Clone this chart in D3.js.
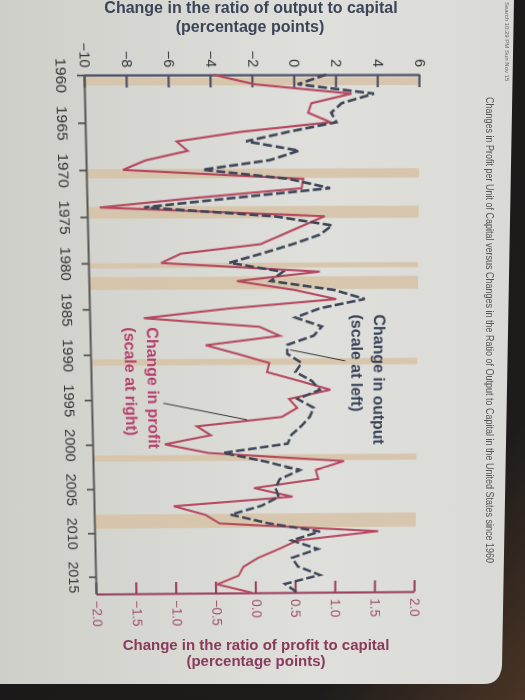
<!DOCTYPE html>
<html><head><meta charset="utf-8">
<script src="https://cdn.jsdelivr.net/npm/d3@7"></script>
<style>
html,body{margin:0;padding:0;overflow:hidden;width:525px;height:700px;background:#1c1c1c;}
#bg,#fg{position:absolute;left:0;top:0;}
#fg{pointer-events:none;}
#chartwrap{position:absolute;left:0;top:0;width:760px;height:560px;transform-origin:0 0;}
text{font-family:"Liberation Sans",Arial,Helvetica,sans-serif;}
</style></head><body>
<svg id="bg" width="525" height="700"></svg>
<div id="chartwrap"><svg id="chart" width="760" height="560" style="overflow:visible"></svg></div>
<svg id="fg" width="525" height="700"></svg>
<script>
// ---------------- data ----------------
const years = d3.range(1960, 2018);
const outputChange = [
  1.5, 0.15, 3.8, 2.25, 1.75, 2.0, -0.3, -2.35, 0.2, -1.2,
  -4.45, -0.3, 1.7, -2.9, -7.3, -1.0, 1.8, 1.2, -0.1, -1.6,
  -3.2, -0.6, -1.2, 1.9, 3.4, 1.2, 0.0, 1.3, 0.9, -0.4,
  -0.4, 0.3, 0.0, 0.8, 1.2, 0.1, 0.9, 0.7, 0.3, -0.2,
  -0.4, -3.6, -1.5, 0.2, -0.8, -1.0, -0.85, -1.7, -3.25, -1.4,
  1.2, -0.2, 1.1, -0.2, 0.1, 1.2, -0.55, 0.05
];
const profitChange = [
  -0.47, 0.02, 1.18, 0.70, 0.66, 0.93, -0.15, -0.92, -0.79, -1.30,
  -1.57, 0.60, 0.58, -0.70, -1.86, 0.86, 0.60, 0.34, 0.08, -0.89,
  -1.13, 0.80, -0.21, 0.50, 1.00, -0.33, -1.35, 0.06, 0.31, -0.60,
  -0.20, 0.18, 0.15, 0.55, 0.93, 0.42, 0.52, 0.33, -0.72, -0.55,
  -1.12, -0.58, 1.10, 0.75, 0.78, -0.02, 0.46, -1.02, -0.63, -0.45,
  1.53, 0.52, 0.28, 0.02, -0.16, -0.22, -0.49, -0.05
];
const recessions = [[1960.3,1961.1],[1969.9,1970.9],[1973.9,1975.2],[1980.0,1980.55],
  [1981.5,1982.9],[1990.5,1991.2],[2001.2,2001.9],[2007.9,2009.5]];
const outputTicks = [-10,-8,-6,-4,-2,0,2,4,6];
const profitTicks = [-2,-1.5,-1,-0.5,0,0.5,1,1.5,2];
const yearTicks = [1960,1965,1970,1975,1980,1985,1990,1995,2000,2005,2010,2015];
const chartTitle = "Changes in Profit per Unit of Capital versus Changes in the Ratio of Output to Capital in the United States since 1960";
const leftTitle = ["Change in the ratio of output to capital","(percentage points)"];
const rightTitle = ["Change in the ratio of profit to capital","(percentage points)"];

// ---------------- background (phone screen) ----------------
const bg = d3.select("#bg");
const defs = bg.append("defs");
const gr = defs.append("linearGradient").attr("id","scr").attr("x1",0).attr("x2",1).attr("y1",0).attr("y2",0);
gr.append("stop").attr("offset","0").attr("stop-color","#cfcfca");
gr.append("stop").attr("offset","0.6").attr("stop-color","#dfdfdb");
gr.append("stop").attr("offset","1").attr("stop-color","#d9d9d5");
bg.append("rect").attr("width",525).attr("height",700).attr("fill","url(#scr)");

// ---------------- natural chart (then rotated / warped) ----------------
const ml = 120, mt = 110, Wn = 518, Hn = 335;
const svg = d3.select("#chart");
const g = svg.append("g").attr("transform",`translate(${ml},${mt})`);

const x = d3.scaleLinear().domain([1960, 2017]).range([0, Wn]);
const yOut = d3.scaleLinear().domain([-10, 6]).range([Hn, 0]);
const yProf = d3.scaleLinear().domain([-2, 2]).range([Hn, 0]);

g.selectAll("rect.rec").data(recessions).join("rect").attr("class","rec")
  .attr("x", d => x(d[0])).attr("width", d => x(d[1]) - x(d[0]))
  .attr("y", 0).attr("height", Hn).attr("fill", "#d6c2a4").attr("opacity",0.85);

function styleAxis(sel, col, txtCol, fs, sw) {
  sel.select(".domain").attr("stroke", col).attr("stroke-width", sw);
  sel.selectAll(".tick line").attr("stroke", col).attr("stroke-width", sw);
  sel.selectAll(".tick text").attr("fill", txtCol).attr("font-size", fs)
     .attr("font-family", '"Liberation Sans",Arial,sans-serif');
}

const gOut = g.append("g").call(d3.axisLeft(yOut).tickValues(outputTicks)
  .tickSizeInner(-12).tickSizeOuter(0).tickPadding(7));
styleAxis(gOut, "#4d4f66", "#333", 14, 2.2);

const gProf = g.append("g").attr("transform",`translate(${Wn},0)`)
  .call(d3.axisRight(yProf).tickValues(profitTicks).tickFormat(d3.format(".1f"))
  .tickSizeInner(-12).tickSizeOuter(0).tickPadding(7));
styleAxis(gProf, "#9a3f5f", "#a04c6c", 14, 2.2);

const gYear = g.append("g").attr("transform",`translate(0,${Hn})`)
  .call(d3.axisBottom(x).tickValues(yearTicks).tickFormat(d3.format("d"))
  .tickSizeInner(8).tickSizeOuter(0).tickPadding(10));
styleAxis(gYear, "#555", "#333", 15, 1.8);

const series = years.map((yr, i) => ({year: yr, out: outputChange[i], prof: profitChange[i]}));

g.append("path").datum(series)
  .attr("d", d3.line().x(d => x(d.year)).y(d => yProf(d.prof)))
  .attr("fill","none").attr("stroke","#b5485f").attr("stroke-width",2.1)
  .attr("stroke-linejoin","miter");

g.append("path").datum(series)
  .attr("d", d3.line().x(d => x(d.year)).y(d => yOut(d.out)))
  .attr("fill","none").attr("stroke","#3e4658").attr("stroke-width",2.6)
  .attr("stroke-dasharray","9,3.5");

// annotations
const outLab = g.append("g").attr("fill","#3a4258").attr("font-weight","bold").attr("font-size",16);
outLab.append("text").attr("x", x(1985.7)).attr("y", yOut(4.1) + 5.3).text("Change in output");
outLab.append("text").attr("x", x(1985.7)).attr("y", yOut(4.1) + 28.3).text("(scale at left)");
g.append("line").attr("x1", x(1990.8)).attr("y1", yOut(2.45)).attr("x2", x(1989.55)).attr("y2", yOut(-0.25))
  .attr("stroke","#333").attr("stroke-width",1);

const profLab = g.append("g").attr("fill","#b5416a").attr("font-weight","bold").attr("font-size",16);
profLab.append("text").attr("x", x(1987.0)).attr("y", yProf(-1.26) + 5.3).text("Change in profit");
profLab.append("text").attr("x", x(1987.0)).attr("y", yProf(-1.26) + 28.3).text("(scale at right)");
g.append("line").attr("x1", x(1995.4)).attr("y1", yProf(-1.13)).attr("x2", x(1997.3)).attr("y2", yProf(-0.1))
  .attr("stroke","#333").attr("stroke-width",1);

// ---------------- perspective warp of the natural chart ----------------
function solve(A, b) {
  const n = b.length;
  const M = A.map((row, i) => [...row, b[i]]);
  for (let c = 0; c < n; c++) {
    let p = c;
    for (let r = c + 1; r < n; r++) if (Math.abs(M[r][c]) > Math.abs(M[p][c])) p = r;
    [M[c], M[p]] = [M[p], M[c]];
    for (let r = 0; r < n; r++) {
      if (r === c) continue;
      const f = M[r][c] / M[c][c];
      for (let k = c; k <= n; k++) M[r][k] -= f * M[c][k];
    }
  }
  return M.map((row, i) => row[n] / row[i]);
}
function homography(src, dst) {
  const A = [], b = [];
  for (let i = 0; i < 4; i++) {
    const [sx, sy] = src[i], [X, Y] = dst[i];
    A.push([sx, sy, 1, 0, 0, 0, -sx * X, -sy * X]); b.push(X);
    A.push([0, 0, 0, sx, sy, 1, -sx * Y, -sy * Y]); b.push(Y);
  }
  return solve(A, b);
}
const src = [[ml, mt + Hn], [ml, mt], [ml + Wn, mt + Hn], [ml + Wn, mt]];
const dst = [[85, 75], [420, 74.5], [97, 594], [415, 591.5]];
const [ha, hb, hc, hd, he, hf, hg, hh] = homography(src, dst);
document.getElementById("chartwrap").style.transform =
  `matrix3d(${ha},${hd},0,${hg},${hb},${he},0,${hh},0,0,1,0,${hc},${hf},0,1)`;

// ---------------- foreground: titles, status bar, bezel ----------------
const fg = d3.select("#fg");
const lt = fg.append("g").attr("fill","#3c4457").attr("font-weight","bold").attr("font-size",16).attr("text-anchor","middle");
lt.append("text").attr("x",251).attr("y",13).text(leftTitle[0]);
lt.append("text").attr("x",250).attr("y",31.5).text(leftTitle[1]);
const rt = fg.append("g").attr("fill","#8a3a5a").attr("font-weight","bold").attr("font-size",15).attr("text-anchor","middle");
rt.append("text").attr("x",256).attr("y",650).text(rightTitle[0]);
rt.append("text").attr("x",256).attr("y",666).text(rightTitle[1]);

fg.append("text").attr("transform","translate(486,97) rotate(90)")
  .attr("font-size",10).attr("fill","#555").attr("textLength",466).attr("lengthAdjust","spacingAndGlyphs")
  .text(chartTitle);

fg.append("text").attr("transform","translate(505,2) rotate(90)")
  .attr("font-size",6).attr("fill","#666").text("Search  10:29 PM  Sun Nov 15");
fg.append("text").attr("transform","translate(505,640) rotate(90)")
  .attr("font-size",6).attr("fill","#666").text("96% ▭");

const fdefs = fg.append("defs");
const bz = fdefs.append("linearGradient").attr("id","bez").attr("x1",0).attr("x2",1).attr("y1",0).attr("y2",1);
bz.append("stop").attr("offset","0").attr("stop-color","#161616");
bz.append("stop").attr("offset","0.8").attr("stop-color","#1e1c1b");
bz.append("stop").attr("offset","1").attr("stop-color","#4a3425");
fg.append("path").attr("fill-rule","evenodd").attr("fill","url(#bez)")
  .attr("d","M0,0H525V700H0Z M-1,-1 L514,-1 L502,666 Q500,684 484,684 L-1,684 Z");
</script>
</body></html>
